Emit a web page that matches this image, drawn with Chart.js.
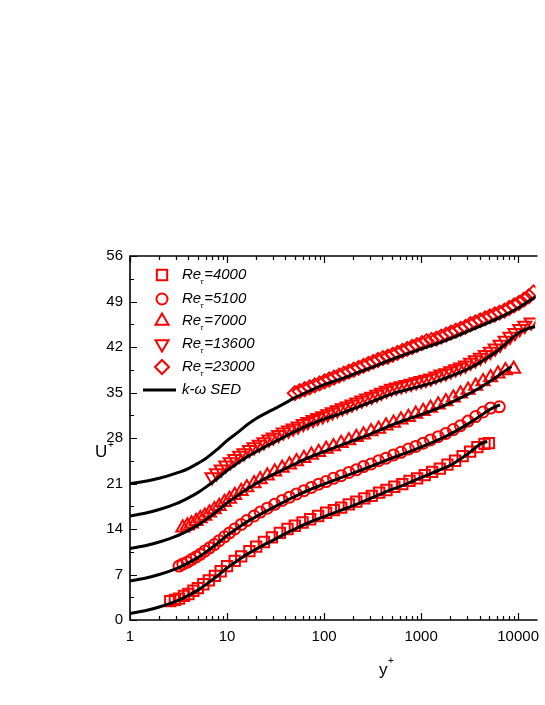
<!DOCTYPE html>
<html>
<head>
<meta charset="utf-8">
<script src="https://cdn.jsdelivr.net/npm/chart.js@4.4.0/dist/chart.umd.min.js"></script>
<style>
  html, body { margin: 0; padding: 0; background: #fff; }
  canvas { display: block; }
</style>
</head>
<body>
<canvas id="chart" width="545" height="705"></canvas>
<script>
// --- datos experimentales (y+, U+) ---
const yp4000 = [2.6, 2.9, 3.2, 3.6, 4.0, 4.5, 5.0, 5.7, 6.5, 7.5, 8.6, 10, 12, 14, 17, 20, 24, 29, 35, 42, 50, 60, 72, 87, 105, 126, 150, 180, 215, 260, 310, 370, 440, 530, 640, 760, 910, 1090, 1300, 1560, 1870, 2240, 2680, 3200, 3800, 4500, 5000];
const u4000 = [2.9, 3.1, 3.3, 3.7, 4.0, 4.5, 4.9, 5.5, 6.1, 6.8, 7.5, 8.3, 9.1, 9.8, 10.6, 11.3, 12.0, 12.7, 13.4, 14.0, 14.5, 15.0, 15.5, 16.0, 16.5, 16.9, 17.3, 17.8, 18.2, 18.7, 19.1, 19.6, 20.0, 20.5, 20.9, 21.4, 21.8, 22.3, 22.8, 23.3, 23.9, 24.5, 25.2, 25.9, 26.6, 27.1, 27.2];

const yp5100 = [3.2, 3.5, 3.9, 4.3, 4.8, 5.3, 5.9, 6.6, 7.4, 8.3, 9.4, 10.6, 12, 14, 16, 19, 22, 26, 31, 37, 44, 52, 62, 74, 88, 105, 125, 150, 180, 215, 255, 305, 365, 435, 520, 620, 740, 880, 1050, 1250, 1500, 1800, 2150, 2550, 3050, 3650, 4350, 5200, 6400];
const u5100 = [8.3, 8.6, 8.9, 9.3, 9.7, 10.1, 10.6, 11.1, 11.6, 12.2, 12.8, 13.4, 14.0, 14.7, 15.3, 16.0, 16.6, 17.2, 17.8, 18.4, 18.9, 19.4, 19.9, 20.4, 20.9, 21.3, 21.8, 22.2, 22.7, 23.1, 23.6, 24.0, 24.5, 24.9, 25.4, 25.8, 26.3, 26.7, 27.2, 27.7, 28.2, 28.7, 29.3, 29.9, 30.6, 31.3, 32.0, 32.6, 32.8];

const yp7000 = [3.5, 3.9, 4.3, 4.8, 5.3, 5.9, 6.6, 7.4, 8.3, 9.4, 10.6, 12, 14, 16, 19, 22, 26, 31, 37, 44, 52, 62, 74, 88, 105, 125, 150, 180, 215, 255, 305, 365, 435, 520, 620, 740, 880, 1050, 1250, 1500, 1800, 2150, 2550, 3050, 3650, 4350, 5200, 6200, 7400, 9000];
const u7000 = [14.2, 14.5, 14.8, 15.2, 15.6, 16.0, 16.5, 17.0, 17.5, 18.1, 18.6, 19.2, 19.8, 20.4, 21.0, 21.6, 22.2, 22.8, 23.4, 23.9, 24.4, 24.9, 25.4, 25.8, 26.3, 26.7, 27.2, 27.6, 28.1, 28.5, 29.0, 29.4, 29.9, 30.3, 30.8, 31.2, 31.7, 32.1, 32.6, 33.1, 33.6, 34.2, 34.8, 35.4, 36.0, 36.7, 37.3, 37.9, 38.4, 38.6];

const yp13600 = [7, 7.8, 8.7, 9.7, 10.8, 12, 13.5, 15, 17, 19, 21.5, 24, 27, 30, 34, 38, 43, 48, 54, 61, 68, 77, 86, 97, 109, 122, 137, 154, 173, 194, 218, 245, 275, 310, 350, 390, 440, 495, 555, 625, 700, 790, 890, 1000, 1120, 1260, 1420, 1600, 1800, 2020, 2270, 2550, 2870, 3230, 3630, 4080, 4590, 5160, 5800, 6520, 7330, 8240, 9270, 10400, 11700, 13600];
const u13600 = [22.0, 22.6, 23.2, 23.8, 24.3, 24.8, 25.3, 25.7, 26.2, 26.6, 27.0, 27.4, 27.8, 28.1, 28.5, 28.9, 29.2, 29.5, 29.8, 30.2, 30.5, 30.8, 31.1, 31.4, 31.7, 32.0, 32.3, 32.6, 32.9, 33.2, 33.5, 33.8, 34.1, 34.4, 34.7, 35.0, 35.3, 35.6, 35.8, 36.0, 36.2, 36.4, 36.6, 36.8, 37.0, 37.2, 37.5, 37.8, 38.0, 38.3, 38.6, 38.9, 39.2, 39.6, 40.0, 40.4, 40.8, 41.3, 41.8, 42.4, 43.0, 43.6, 44.2, 44.8, 45.3, 45.8];

const yp23000 = [50, 56, 63, 71, 80, 90, 101, 113, 127, 143, 160, 180, 202, 227, 255, 286, 321, 360, 404, 454, 509, 571, 641, 720, 808, 907, 1020, 1140, 1280, 1440, 1610, 1810, 2030, 2280, 2560, 2870, 3220, 3620, 4060, 4560, 5110, 5740, 6440, 7230, 8110, 9100, 10200, 11500, 12900, 14400];
const u23000 = [34.9, 35.2, 35.5, 35.8, 36.1, 36.4, 36.7, 37.0, 37.3, 37.6, 37.9, 38.2, 38.5, 38.8, 39.1, 39.4, 39.7, 40.0, 40.3, 40.5, 40.8, 41.1, 41.4, 41.7, 42.0, 42.3, 42.6, 42.9, 43.1, 43.3, 43.6, 43.9, 44.2, 44.5, 44.8, 45.1, 45.5, 45.8, 46.1, 46.4, 46.7, 47.0, 47.3, 47.6, 48.0, 48.4, 48.8, 49.3, 49.8, 50.4];

// --- curvas del modelo k-omega SED ---
const sedY1 = [1, 1.5, 2, 3, 4, 5, 6, 8, 10, 13, 16, 20, 25, 30, 40, 50, 70, 100, 150, 200, 300, 500, 700, 1000, 1500, 2000, 2500, 3000, 3500, 4000, 4800];
const sedU1 = [1.0, 1.5, 2.0, 2.9, 3.8, 4.6, 5.4, 6.8, 8.0, 9.2, 10.1, 10.9, 11.7, 12.3, 13.3, 14.0, 15.0, 15.9, 16.9, 17.6, 18.7, 20.1, 20.9, 21.9, 23.0, 23.8, 24.7, 25.5, 26.3, 27.0, 27.5];

const sedY2 = [1, 1.5, 2, 3, 4, 5, 6, 8, 10, 13, 16, 20, 25, 30, 40, 50, 70, 100, 150, 200, 300, 500, 700, 1000, 1500, 2000, 3000, 4000, 5000, 6000, 6500];
const sedU2 = [6.0, 6.5, 7.0, 7.9, 8.8, 9.6, 10.4, 11.8, 13.0, 14.2, 15.1, 15.9, 16.7, 17.3, 18.3, 19.0, 20.0, 20.9, 21.9, 22.6, 23.6, 24.9, 25.7, 26.6, 27.7, 28.6, 30.1, 31.3, 32.3, 32.9, 33.1];

const sedY3 = [1, 1.5, 2, 3, 4, 5, 6, 8, 10, 13, 16, 20, 25, 30, 40, 50, 70, 100, 150, 200, 300, 500, 700, 1000, 1500, 2000, 3000, 4000, 5000, 6000, 7000, 8500];
const sedU3 = [11.0, 11.5, 12.0, 12.9, 13.8, 14.6, 15.4, 16.8, 18.0, 19.2, 20.1, 21.0, 21.8, 22.4, 23.3, 24.0, 25.0, 25.9, 26.9, 27.6, 28.6, 30.0, 30.8, 31.6, 32.6, 33.4, 34.7, 35.7, 36.6, 37.4, 38.1, 39.0];

const sedY4 = [1, 1.5, 2, 3, 4, 5, 6, 8, 10, 13, 16, 20, 25, 30, 40, 50, 70, 100, 150, 200, 300, 500, 700, 1000, 1500, 2000, 3000, 4000, 5000, 6000, 8000, 10000, 12000, 13600, 15000];
const sedU4 = [16.0, 16.5, 17.0, 17.9, 18.8, 19.6, 20.4, 21.8, 23.0, 24.2, 25.1, 25.9, 26.7, 27.3, 28.3, 29.0, 30.0, 30.9, 31.8, 32.5, 33.5, 34.8, 35.4, 36.0, 36.8, 37.5, 38.6, 39.6, 40.5, 41.3, 42.9, 44.1, 44.7, 45.0, 45.1];

const sedY5 = [1, 1.5, 2, 3, 4, 5, 6, 8, 10, 13, 16, 20, 25, 30, 40, 50, 70, 100, 150, 200, 300, 500, 700, 1000, 1500, 2000, 3000, 5000, 7000, 10000, 13000, 16000];
const sedU5 = [21.0, 21.4, 21.8, 22.6, 23.3, 24.1, 24.8, 26.3, 27.6, 28.9, 30.0, 31.0, 31.8, 32.4, 33.4, 34.2, 35.2, 36.2, 37.1, 37.8, 38.8, 40.1, 40.9, 41.7, 42.6, 43.3, 44.4, 45.8, 46.8, 48.0, 49.1, 50.0];

// --- ejes ---
const xDecades = [1, 10, 100, 1000, 10000];
const xDecadeLabels = ['1', '10', '100', '1000', '10000'];
const yTicks = [0, 7, 14, 21, 28, 35, 42, 49, 56];

const legendLabels = ['=4000', '=5100', '=7000', '=13600', '=23000'];

const RED = '#ff0000';
const FONT = '"Liberation Sans", Arial, sans-serif';

function pts(xs, ys) {
  return xs.map((x, i) => ({ x: x, y: ys[i] }));
}

// estilos de símbolo: cuadrado, círculo, triángulo, triángulo invertido, rombo
const symbolDefs = [
  { style: 'rect', radius: 7.3, rotation: 0 },
  { style: 'circle', radius: 5.5, rotation: 0 },
  { style: 'triangle', radius: 7.5, rotation: 0 },
  { style: 'triangle', radius: 7.5, rotation: 180 },
  { style: 'rectRot', radius: 7, rotation: 0 }
];

function symbolSet(xs, ys, def) {
  return {
    data: pts(xs, ys),
    showLine: false,
    pointStyle: def.style,
    pointRadius: def.radius,
    pointRotation: def.rotation,
    pointBorderColor: RED,
    pointBackgroundColor: 'rgba(0,0,0,0)',
    pointBorderWidth: 2,
    order: 1
  };
}

function sedSet(xs, ys) {
  return {
    data: pts(xs, ys),
    showLine: true,
    borderColor: '#000',
    borderWidth: 3,
    pointRadius: 0,
    cubicInterpolationMode: 'monotone',
    fill: false,
    order: 0
  };
}

// dibuja marco, marcas, etiquetas, títulos y leyenda
const decorPlugin = {
  id: 'decor',
  afterDraw(chart) {
    const ctx = chart.ctx;
    const xs = chart.scales.x;
    const ys = chart.scales.y;
    const a = chart.chartArea;
    ctx.save();
    ctx.strokeStyle = '#000';
    ctx.lineWidth = 1.6;

    // marco: izquierda, abajo, arriba
    ctx.beginPath();
    ctx.moveTo(a.right + 2, a.top);
    ctx.lineTo(a.left, a.top);
    ctx.lineTo(a.left, a.bottom);
    ctx.lineTo(a.right + 2, a.bottom);
    ctx.stroke();

    // marcas del eje y (hacia dentro)
    ctx.lineWidth = 1.2;
    ctx.beginPath();
    for (let v = 0; v <= 56; v += 3.5) {
      const py = Math.round(ys.getPixelForValue(v)) + 0.5;
      const len = (v % 7 === 0) ? 7 : 4;
      ctx.moveTo(a.left, py);
      ctx.lineTo(a.left + len, py);
    }
    // marcas del eje x log (abajo y arriba)
    for (let d = 0; d < xDecades.length; d++) {
      for (let m = 1; m <= 9; m++) {
        const val = xDecades[d] * m;
        if (val > xs.max) continue;
        const px = Math.round(xs.getPixelForValue(val)) + 0.5;
        const len = m === 1 ? 7 : 4;
        ctx.moveTo(px, a.bottom);
        ctx.lineTo(px, a.bottom - len);
        ctx.moveTo(px, a.top);
        ctx.lineTo(px, a.top + len);
      }
    }
    ctx.stroke();

    // etiquetas
    ctx.fillStyle = '#000';
    ctx.font = '15px ' + FONT;
    ctx.textAlign = 'right';
    ctx.textBaseline = 'middle';
    yTicks.forEach(v => ctx.fillText(String(v), a.left - 7, ys.getPixelForValue(v)));
    ctx.textAlign = 'center';
    xDecades.forEach((v, i) => ctx.fillText(xDecadeLabels[i], xs.getPixelForValue(v), a.bottom + 17));

    // títulos de ejes
    ctx.font = '17px ' + FONT;
    ctx.textAlign = 'left';
    ctx.fillText('U', 95, 452);
    ctx.font = '10px ' + FONT;
    ctx.fillText('+', 108, 445);
    ctx.font = '17px ' + FONT;
    ctx.fillText('y', 379, 670);
    ctx.font = '10px ' + FONT;
    ctx.fillText('+', 388, 661);

    // leyenda
    const lx = 162, tx = 182;
    const rows = [275, 299, 321, 344, 367];
    symbolDefs.forEach((s, i) => {
      ctx.strokeStyle = RED;
      ctx.fillStyle = 'rgba(0,0,0,0)';
      ctx.lineWidth = 2;
      Chart.helpers.drawPoint(ctx, { pointStyle: s.style, radius: s.radius, rotation: s.rotation, borderWidth: 2 }, lx, rows[i]);
      ctx.fillStyle = '#000';
      ctx.font = 'italic 15px ' + FONT;
      ctx.textAlign = 'left';
      ctx.textBaseline = 'middle';
      ctx.fillText('Re', tx, rows[i]);
      const w = ctx.measureText('Re').width;
      ctx.font = 'italic 8px ' + FONT;
      ctx.fillText('\u03c4', tx + w - 1, rows[i] + 7);
      ctx.font = 'italic 15px ' + FONT;
      ctx.fillText(legendLabels[i], tx + w + 3, rows[i]);
    });
    ctx.strokeStyle = '#000';
    ctx.lineWidth = 3;
    ctx.beginPath();
    ctx.moveTo(143, 390);
    ctx.lineTo(176, 390);
    ctx.stroke();
    ctx.fillStyle = '#000';
    ctx.font = 'italic 15px ' + FONT;
    ctx.fillText('k-\u03c9 SED', tx, 390);

    ctx.restore();
  }
};

const datasets = [
  symbolSet(yp4000, u4000, symbolDefs[0]),
  symbolSet(yp5100, u5100, symbolDefs[1]),
  symbolSet(yp7000, u7000, symbolDefs[2]),
  symbolSet(yp13600, u13600, symbolDefs[3]),
  symbolSet(yp23000, u23000, symbolDefs[4]),
  sedSet(sedY1, sedU1),
  sedSet(sedY2, sedU2),
  sedSet(sedY3, sedU3),
  sedSet(sedY4, sedU4),
  sedSet(sedY5, sedU5)
];

new Chart(document.getElementById('chart').getContext('2d'), {
  type: 'scatter',
  data: { datasets: datasets },
  options: {
    responsive: false,
    animation: false,
    layout: { padding: { left: 130, right: 0, top: 256, bottom: 85 } },
    plugins: { legend: { display: false }, tooltip: { enabled: false } },
    scales: {
      x: { type: 'logarithmic', min: 1, max: 15100, display: false },
      y: { type: 'linear', min: 0, max: 56, display: false }
    }
  },
  plugins: [decorPlugin]
});
</script>
</body>
</html>
